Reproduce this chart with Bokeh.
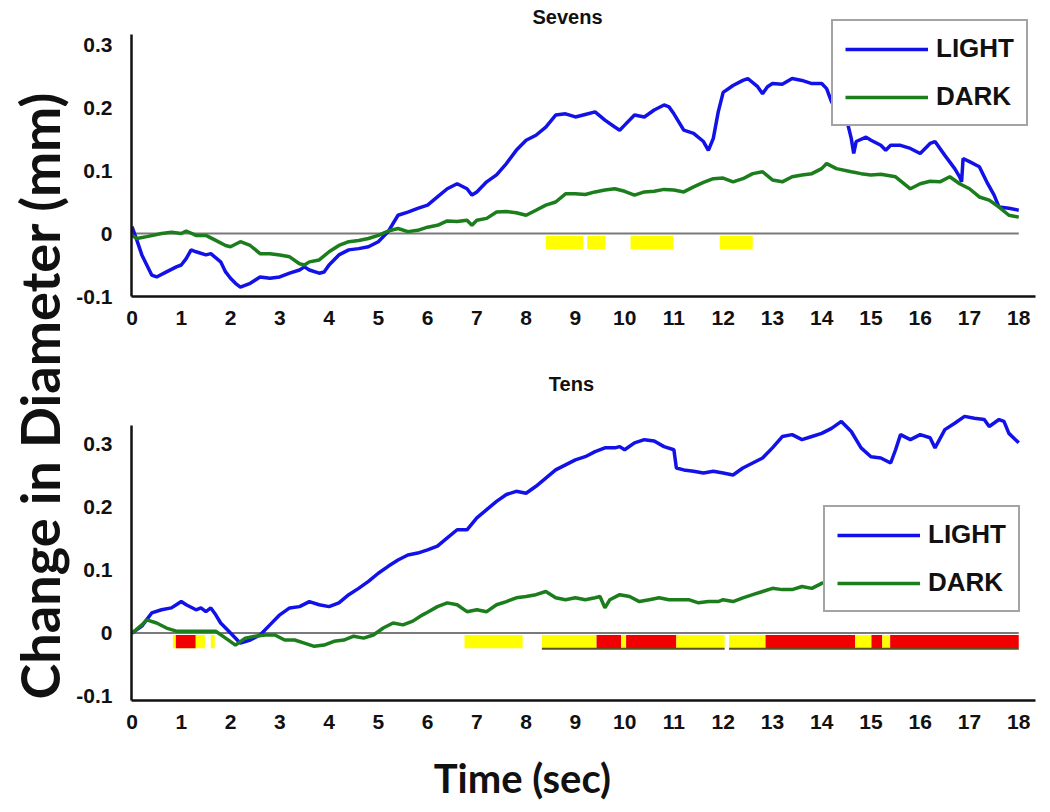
from math import pi
from bokeh.plotting import figure
from bokeh.models import Legend, LegendItem, Label, FixedTicker, CustomJSTickFormatter, Range1d
from bokeh.layouts import row, column
from bokeh.embed import file_html
from bokeh.resources import INLINE

# ---------------- data ----------------
x_ticks = list(range(0, 19))
y_ticks = [-0.1, 0.0, 0.1, 0.2, 0.3]

sevens_light_t = [0, 0.1, 0.2, 0.3, 0.4, 0.5, 0.7, 0.9, 1.0, 1.1, 1.2, 1.3, 1.5, 1.6, 1.8, 1.9, 2.0, 2.1, 2.2, 2.4,
                  2.6, 2.8, 3.0, 3.2, 3.4, 3.5, 3.6, 3.8, 3.9, 4.0, 4.2, 4.4, 4.6, 4.8, 5.0, 5.2, 5.4, 5.6, 5.8, 6.0,
                  6.2, 6.4, 6.6, 6.8, 6.9, 7.0, 7.2, 7.4, 7.6, 7.8, 8.0, 8.2, 8.4, 8.6, 8.8, 9.0, 9.2, 9.4, 9.6, 9.8,
                  9.9, 10.0, 10.2, 10.4, 10.6, 10.8, 10.9, 11.0, 11.2, 11.4, 11.6, 11.7, 11.8, 11.9, 12.0, 12.2, 12.4,
                  12.5, 12.7, 12.8, 12.9, 13.0, 13.2, 13.4, 13.6, 13.8, 14.0, 14.1, 14.2, 14.3, 14.4, 14.5, 14.6,
                  14.65, 14.7, 14.9, 15.0, 15.2, 15.3, 15.4, 15.6, 15.8, 16.0, 16.2, 16.3, 16.5, 16.7, 16.8, 16.84,
                  16.87, 17.0, 17.2, 17.35, 17.5, 17.6, 17.8, 18.0]
sevens_light_v = [0.011, -0.011, -0.034, -0.05, -0.066, -0.069, -0.061, -0.053, -0.05, -0.04, -0.026, -0.029, -0.034,
                  -0.032, -0.045, -0.061, -0.071, -0.079, -0.085, -0.079, -0.069, -0.071, -0.069, -0.063, -0.058,
                  -0.053, -0.058, -0.063, -0.061, -0.05, -0.034, -0.026, -0.024, -0.021, -0.013, 0.003, 0.029, 0.034,
                  0.04, 0.045, 0.058, 0.071, 0.079, 0.071, 0.061, 0.066, 0.082, 0.093, 0.111, 0.132, 0.148, 0.156,
                  0.169, 0.188, 0.19, 0.185, 0.189, 0.193, 0.18, 0.169, 0.164, 0.172, 0.188, 0.185, 0.196, 0.204,
                  0.201, 0.19, 0.164, 0.159, 0.146, 0.132, 0.151, 0.193, 0.224, 0.235, 0.243, 0.246, 0.233, 0.222,
                  0.233, 0.238, 0.237, 0.246, 0.243, 0.238, 0.238, 0.23, 0.209, 0.196, 0.201, 0.183, 0.151, 0.127,
                  0.146, 0.153, 0.148, 0.14, 0.132, 0.14, 0.14, 0.135, 0.127, 0.143, 0.146, 0.124, 0.103, 0.09, 0.082,
                  0.119, 0.114, 0.106, 0.082, 0.061, 0.042, 0.04, 0.037]

sevens_dark_t = [0, 0.1, 0.3, 0.6, 0.8, 1.0, 1.1, 1.3, 1.5, 1.7, 1.9, 2.0, 2.2, 2.4, 2.6, 2.8, 3.0, 3.2, 3.4, 3.5,
                 3.6, 3.8, 4.0, 4.2, 4.4, 4.6, 4.8, 5.0, 5.2, 5.4, 5.6, 5.8, 6.0, 6.2, 6.4, 6.6, 6.8, 6.9, 7.0, 7.2,
                 7.4, 7.6, 7.8, 8.0, 8.2, 8.4, 8.6, 8.8, 9.0, 9.2, 9.4, 9.6, 9.8, 10.0, 10.2, 10.4, 10.6, 10.8, 11.0,
                 11.2, 11.4, 11.6, 11.8, 12.0, 12.2, 12.4, 12.6, 12.8, 13.0, 13.2, 13.4, 13.6, 13.8, 14.0, 14.1, 14.3,
                 14.6, 14.8, 15.0, 15.2, 15.5, 15.8, 16.0, 16.2, 16.4, 16.6, 16.8, 17.0, 17.2, 17.4, 17.6, 17.8, 18.0]
sevens_dark_v = [-0.003, -0.008, -0.005, 0.0, 0.002, 0.0, 0.004, -0.003, -0.003, -0.011, -0.019, -0.021, -0.013,
                 -0.019, -0.032, -0.032, -0.034, -0.037, -0.048, -0.05, -0.045, -0.042, -0.029, -0.019, -0.013,
                 -0.011, -0.008, -0.003, 0.004, 0.008, 0.003, 0.005, 0.01, 0.013, 0.02, 0.019, 0.021, 0.013, 0.021,
                 0.024, 0.034, 0.035, 0.033, 0.029, 0.037, 0.045, 0.05, 0.063, 0.063, 0.062, 0.066, 0.069, 0.071,
                 0.067, 0.061, 0.066, 0.067, 0.07, 0.069, 0.066, 0.074, 0.081, 0.087, 0.088, 0.082, 0.087, 0.095,
                 0.098, 0.085, 0.082, 0.09, 0.093, 0.095, 0.103, 0.111, 0.103, 0.098, 0.095, 0.093, 0.094, 0.09,
                 0.071, 0.079, 0.083, 0.082, 0.09, 0.079, 0.071, 0.058, 0.053, 0.042, 0.029, 0.026]

tens_light_t = [0, 0.2, 0.4, 0.6, 0.8, 0.9, 1.0, 1.1, 1.3, 1.4, 1.5, 1.6, 1.7, 1.8, 2.0, 2.2, 2.4, 2.6, 2.8, 3.0,
                3.2, 3.4, 3.6, 3.8, 4.0, 4.2, 4.4, 4.6, 4.8, 5.0, 5.2, 5.4, 5.6, 5.8, 6.0, 6.2, 6.4, 6.6, 6.8, 7.0,
                7.2, 7.4, 7.6, 7.8, 8.0, 8.2, 8.4, 8.6, 8.8, 9.0, 9.2, 9.4, 9.6, 9.8, 9.9, 10.0, 10.2, 10.4, 10.6,
                10.8, 11.0, 11.05, 11.2, 11.4, 11.6, 11.8, 12.0, 12.2, 12.4, 12.6, 12.8, 13.0, 13.2, 13.4, 13.6, 13.8,
                14.0, 14.2, 14.4, 14.6, 14.8, 15.0, 15.2, 15.4, 15.5, 15.6, 15.8, 16.0, 16.2, 16.3, 16.5, 16.7, 16.9,
                17.1, 17.3, 17.4, 17.6, 17.7, 17.8, 18.0]
tens_light_v = [0.0, 0.011, 0.032, 0.037, 0.04, 0.045, 0.05, 0.045, 0.037, 0.04, 0.034, 0.04, 0.029, 0.016, 0.0,
                -0.016, -0.011, -0.003, 0.013, 0.029, 0.04, 0.042, 0.05, 0.045, 0.042, 0.048, 0.061, 0.071, 0.082,
                0.095, 0.106, 0.116, 0.124, 0.127, 0.132, 0.138, 0.151, 0.164, 0.164, 0.183, 0.196, 0.209, 0.22,
                0.225, 0.222, 0.233, 0.246, 0.259, 0.267, 0.275, 0.28, 0.288, 0.294, 0.294, 0.296, 0.291, 0.302,
                0.307, 0.305, 0.296, 0.291, 0.262, 0.259, 0.257, 0.254, 0.257, 0.254, 0.251, 0.262, 0.27, 0.278,
                0.294, 0.312, 0.315, 0.307, 0.312, 0.317, 0.325, 0.336, 0.32, 0.294, 0.28, 0.278, 0.27, 0.291, 0.315,
                0.307, 0.315, 0.31, 0.294, 0.323, 0.333, 0.344, 0.341, 0.339, 0.328, 0.339, 0.336, 0.317, 0.302]

tens_dark_t = [0, 0.2, 0.3, 0.5, 0.7, 0.9, 1.1, 1.3, 1.5, 1.7, 1.9, 2.1, 2.3, 2.5, 2.7, 2.9, 3.1, 3.3, 3.5, 3.7,
               3.9, 4.1, 4.3, 4.5, 4.7, 4.9, 5.1, 5.3, 5.5, 5.7, 5.9, 6.0, 6.2, 6.4, 6.6, 6.8, 7.0, 7.2, 7.4, 7.6,
               7.8, 8.0, 8.2, 8.4, 8.6, 8.8, 9.0, 9.2, 9.4, 9.5, 9.6, 9.7, 9.9, 10.1, 10.3, 10.5, 10.7, 10.9, 11.1,
               11.3, 11.5, 11.7, 11.9, 12.0, 12.2, 12.4, 12.6, 12.8, 13.0, 13.2, 13.4, 13.6, 13.8, 14.0, 14.2, 14.4,
               14.6, 14.8, 15.0, 15.2, 15.4, 15.6, 15.8, 16.0, 16.2, 16.4, 16.6, 16.8, 17.0, 17.2, 17.4, 17.6, 17.8,
               18.0]
tens_dark_v = [0.0, 0.013, 0.021, 0.016, 0.008, 0.003, 0.003, 0.003, 0.003, 0.003, -0.008, -0.019, -0.008, -0.005,
               -0.003, -0.003, -0.011, -0.011, -0.016, -0.021, -0.019, -0.013, -0.011, -0.005, -0.008, -0.003,
               0.008, 0.016, 0.013, 0.019, 0.029, 0.033, 0.042, 0.048, 0.045, 0.034, 0.037, 0.034, 0.045, 0.05,
               0.056, 0.058, 0.061, 0.066, 0.056, 0.053, 0.056, 0.053, 0.056, 0.058, 0.04, 0.053, 0.061, 0.058,
               0.05, 0.053, 0.056, 0.053, 0.053, 0.053, 0.048, 0.05, 0.05, 0.053, 0.05, 0.056, 0.061, 0.066, 0.071,
               0.069, 0.069, 0.074, 0.071, 0.079, 0.082, 0.09, 0.098, 0.087, 0.082, 0.093, 0.087, 0.077, 0.085,
               0.09, 0.085, 0.069, 0.066, 0.069, 0.082, 0.085, 0.085, 0.09, 0.082, 0.082]

# significance bars (start, end, colour)
sevens_bar_start = [8.40, 9.24, 10.12, 11.93]
sevens_bar_end = [9.16, 9.61, 10.99, 12.60]
sevens_bar_color = ["yellow", "yellow", "yellow", "yellow"]

tens_bar_start = [0.83, 1.60, 6.75, 8.32, 9.43, 9.93, 10.03, 11.05, 12.12, 12.86, 14.68, 15.01, 15.23, 15.39]
tens_bar_end = [1.48, 1.68, 7.93, 9.43, 9.93, 10.03, 11.05, 12.03, 12.86, 14.68, 15.01, 15.23, 15.39, 18.0]
tens_bar_color = ["yellow", "yellow", "yellow", "yellow", "red", "yellow", "red", "yellow", "yellow", "red",
                  "yellow", "red", "yellow", "red"]
tens_red_start = [0.89]
tens_red_end = [1.29]
tens_underline_start = [8.32, 12.12]
tens_underline_end = [12.03, 18.0]

BLUE = "#1212e8"
GREEN = "#1c7d1c"
BAR_RED = "#f00000"
BAR_YELLOW = "#ffff00"
INK = "#111111"


def colour(c):
    return BAR_RED if c == "red" else BAR_YELLOW


def panel(y_rng, axis_bottom, axis_top, height, top_b, bot_b, bs, be, bc, bar_top, bar_bot):
    p = figure(width=969, height=height, x_range=Range1d(-0.01, 18.34), y_range=Range1d(*y_rng),
               output_backend="svg", toolbar_location=None,
               min_border_left=52, min_border_right=7, min_border_top=top_b, min_border_bottom=bot_b)
    p.xgrid.visible = False
    p.ygrid.visible = False
    p.outline_line_color = None
    p.background_fill_color = "white"
    p.border_fill_color = "white"

    p.quad(left=bs, right=be, top=bar_top, bottom=bar_bot,
           fill_color=[colour(c) for c in bc], line_color=None)

    p.xaxis.ticker = FixedTicker(ticks=x_ticks)
    p.yaxis.ticker = FixedTicker(ticks=y_ticks)
    p.yaxis.formatter = CustomJSTickFormatter(code="return tick.toString()")
    p.yaxis.bounds = (axis_bottom, axis_top)
    for ax in (p.xaxis, p.yaxis):
        ax.axis_line_width = 2.5
        ax.axis_line_color = INK
        ax.major_tick_line_color = None
        ax.minor_tick_line_color = None
        ax.major_label_text_font = "Liberation Sans"
        ax.major_label_text_font_style = "bold"
        ax.major_label_text_color = INK
    p.xaxis.major_label_text_font_size = "21px"
    p.xaxis.major_label_standoff = 8
    p.yaxis.major_label_text_font_size = "21px"
    p.yaxis.major_label_standoff = 13
    return p


def finish(p, title, title_x, title_y, lt, lv, dt, dv, leg_xy):
    p.segment(x0=x_ticks[0], x1=x_ticks[-1], y0=0, y1=0, line_color="#7a7a7a", line_width=2)
    rl = p.line(lt, lv, line_color=BLUE, line_width=3.5)
    rd = p.line(dt, dv, line_color=GREEN, line_width=3.5)
    leg = Legend(items=[LegendItem(label="LIGHT", renderers=[rl]), LegendItem(label="DARK", renderers=[rd])],
                 location=leg_xy)
    leg.label_text_font = "Liberation Sans"
    leg.label_text_font_style = "bold"
    leg.label_text_font_size = "26px"
    leg.label_text_color = INK
    leg.glyph_width = 83
    leg.glyph_height = 30
    leg.label_height = 30
    leg.label_standoff = 8
    leg.spacing = 17
    leg.padding = 12
    leg.margin = 0
    leg.border_line_color = "#4a4a4a"
    leg.border_line_width = 2
    leg.background_fill_color = "white"
    leg.background_fill_alpha = 1.0
    p.add_layout(leg)
    # panel title
    p.add_layout(Label(x=title_x, y=title_y, text=title, text_align="center", text_baseline="middle",
                       text_font="Liberation Sans", text_font_style="bold", text_font_size="20px",
                       text_color=INK))


# ---- top panel: Sevens ----
top = panel((-0.1, 0.3635), -0.1, 0.316, 360, 4, 64,
            sevens_bar_start, sevens_bar_end, sevens_bar_color, -0.004, -0.025)
finish(top, "Sevens", 8.84, 0.343, sevens_light_t, sevens_light_v, sevens_dark_t, sevens_dark_v, (700, 170))

# ---- bottom panel: Tens ----
bot = panel((-0.107, 0.4184), -0.107, 0.329, 380, 9, 40,
            tens_bar_start, tens_bar_end, tens_bar_color, -0.003, -0.024)
bot.quad(left=tens_red_start, right=tens_red_end, top=-0.003, bottom=-0.024, fill_color=BAR_RED, line_color=None)
bot.segment(x0=tens_underline_start, x1=tens_underline_end, y0=-0.025, y1=-0.025,
            line_color="#5a5220", line_width=2)
finish(bot, "Tens", 8.92, 0.395, tens_light_t, tens_light_v, tens_dark_t, tens_dark_v, (692, 88))

# ---- x axis title strip ----
time_h = 65
tfig = figure(width=969, height=time_h, x_range=Range1d(0, 969), y_range=Range1d(0, time_h),
              output_backend="svg", toolbar_location=None, min_border=0,
              x_axis_location=None, y_axis_location=None)
tfig.xgrid.visible = False
tfig.ygrid.visible = False
tfig.outline_line_color = None
tfig.add_layout(Label(x=419, y=28, text="Time (sec)", text_align="center", text_baseline="middle",
                      text_font="Lato", text_font_style="bold", text_font_size="40px", text_color=INK))

# ---- shared y label ----
lab_h = 360 + 380 + time_h
lab = figure(width=73, height=lab_h, x_range=Range1d(0, 73), y_range=Range1d(0, lab_h),
             output_backend="svg", toolbar_location=None, min_border=0,
             x_axis_location=None, y_axis_location=None)
lab.xgrid.visible = False
lab.ygrid.visible = False
lab.outline_line_color = None
lab.add_layout(Label(x=39, y=lab_h - 395, text="Change in Diameter (mm)", angle=pi / 2,
                     text_align="center", text_baseline="middle", text_font="Lato",
                     text_font_style="bold", text_font_size="54px", text_color=INK))

layout = row(lab, column(top, bot, tfig))
open("out.html", "w").write(file_html(layout, INLINE))
